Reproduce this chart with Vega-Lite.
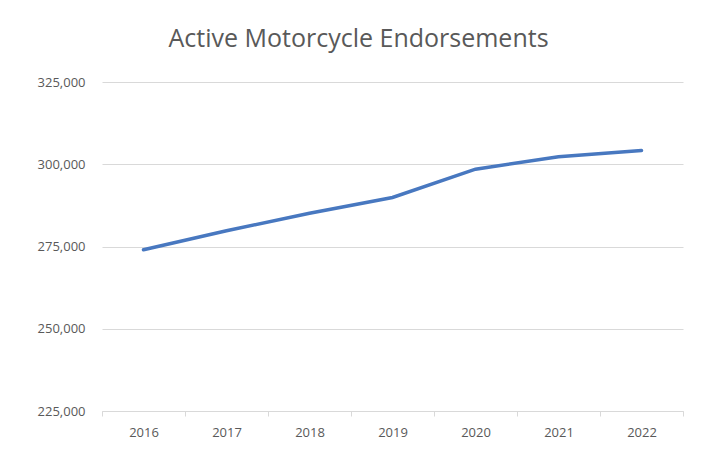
{
  "$schema": "https://vega.github.io/schema/vega-lite/v6.json",
  "autosize": "none",
  "width": 581,
  "height": 329,
  "padding": {"left": 102, "top": 82, "right": 29, "bottom": 49},
  "background": "white",
  "title": {
    "text": "Active Motorcycle Endorsements",
    "font": "Open Sans",
    "fontSize": 25,
    "fontWeight": "normal",
    "color": "#595959",
    "anchor": "middle",
    "dx": -34,
    "offset": 24
  },
  "data": {
    "values": [
      {"year": "2016", "value": 274000},
      {"year": "2017", "value": 279800},
      {"year": "2018", "value": 285100},
      {"year": "2019", "value": 289900},
      {"year": "2020", "value": 298500},
      {"year": "2021", "value": 302300},
      {"year": "2022", "value": 304200}
    ]
  },
  "mark": {"type": "line", "color": "#4878C0", "strokeWidth": 3.5, "strokeCap": "round"},
  "encoding": {
    "x": {
      "field": "year",
      "type": "ordinal",
      "scale": {"paddingInner": 0, "paddingOuter": 0},
      "axis": {
        "title": null,
        "labelAngle": 0,
        "labelFont": "Open Sans",
        "labelFontSize": 13,
        "labelColor": "#595959",
        "labelPadding": 10,
        "domainColor": "#d9d9d9",
        "tickColor": "#d9d9d9",
        "tickSize": 5,
        "tickBand": "extent",
        "grid": false
      }
    },
    "y": {
      "field": "value",
      "type": "quantitative",
      "scale": {"domain": [225000, 325000], "nice": false, "zero": false},
      "axis": {
        "title": null,
        "values": [225000, 250000, 275000, 300000, 325000],
        "format": ",.0f",
        "labelFont": "Open Sans",
        "labelFontSize": 13,
        "labelColor": "#595959",
        "labelPadding": 17,
        "domain": false,
        "ticks": false,
        "grid": true,
        "gridColor": "#d9d9d9",
        "gridWidth": 1
      }
    }
  },
  "config": {"view": {"stroke": null}}
}
